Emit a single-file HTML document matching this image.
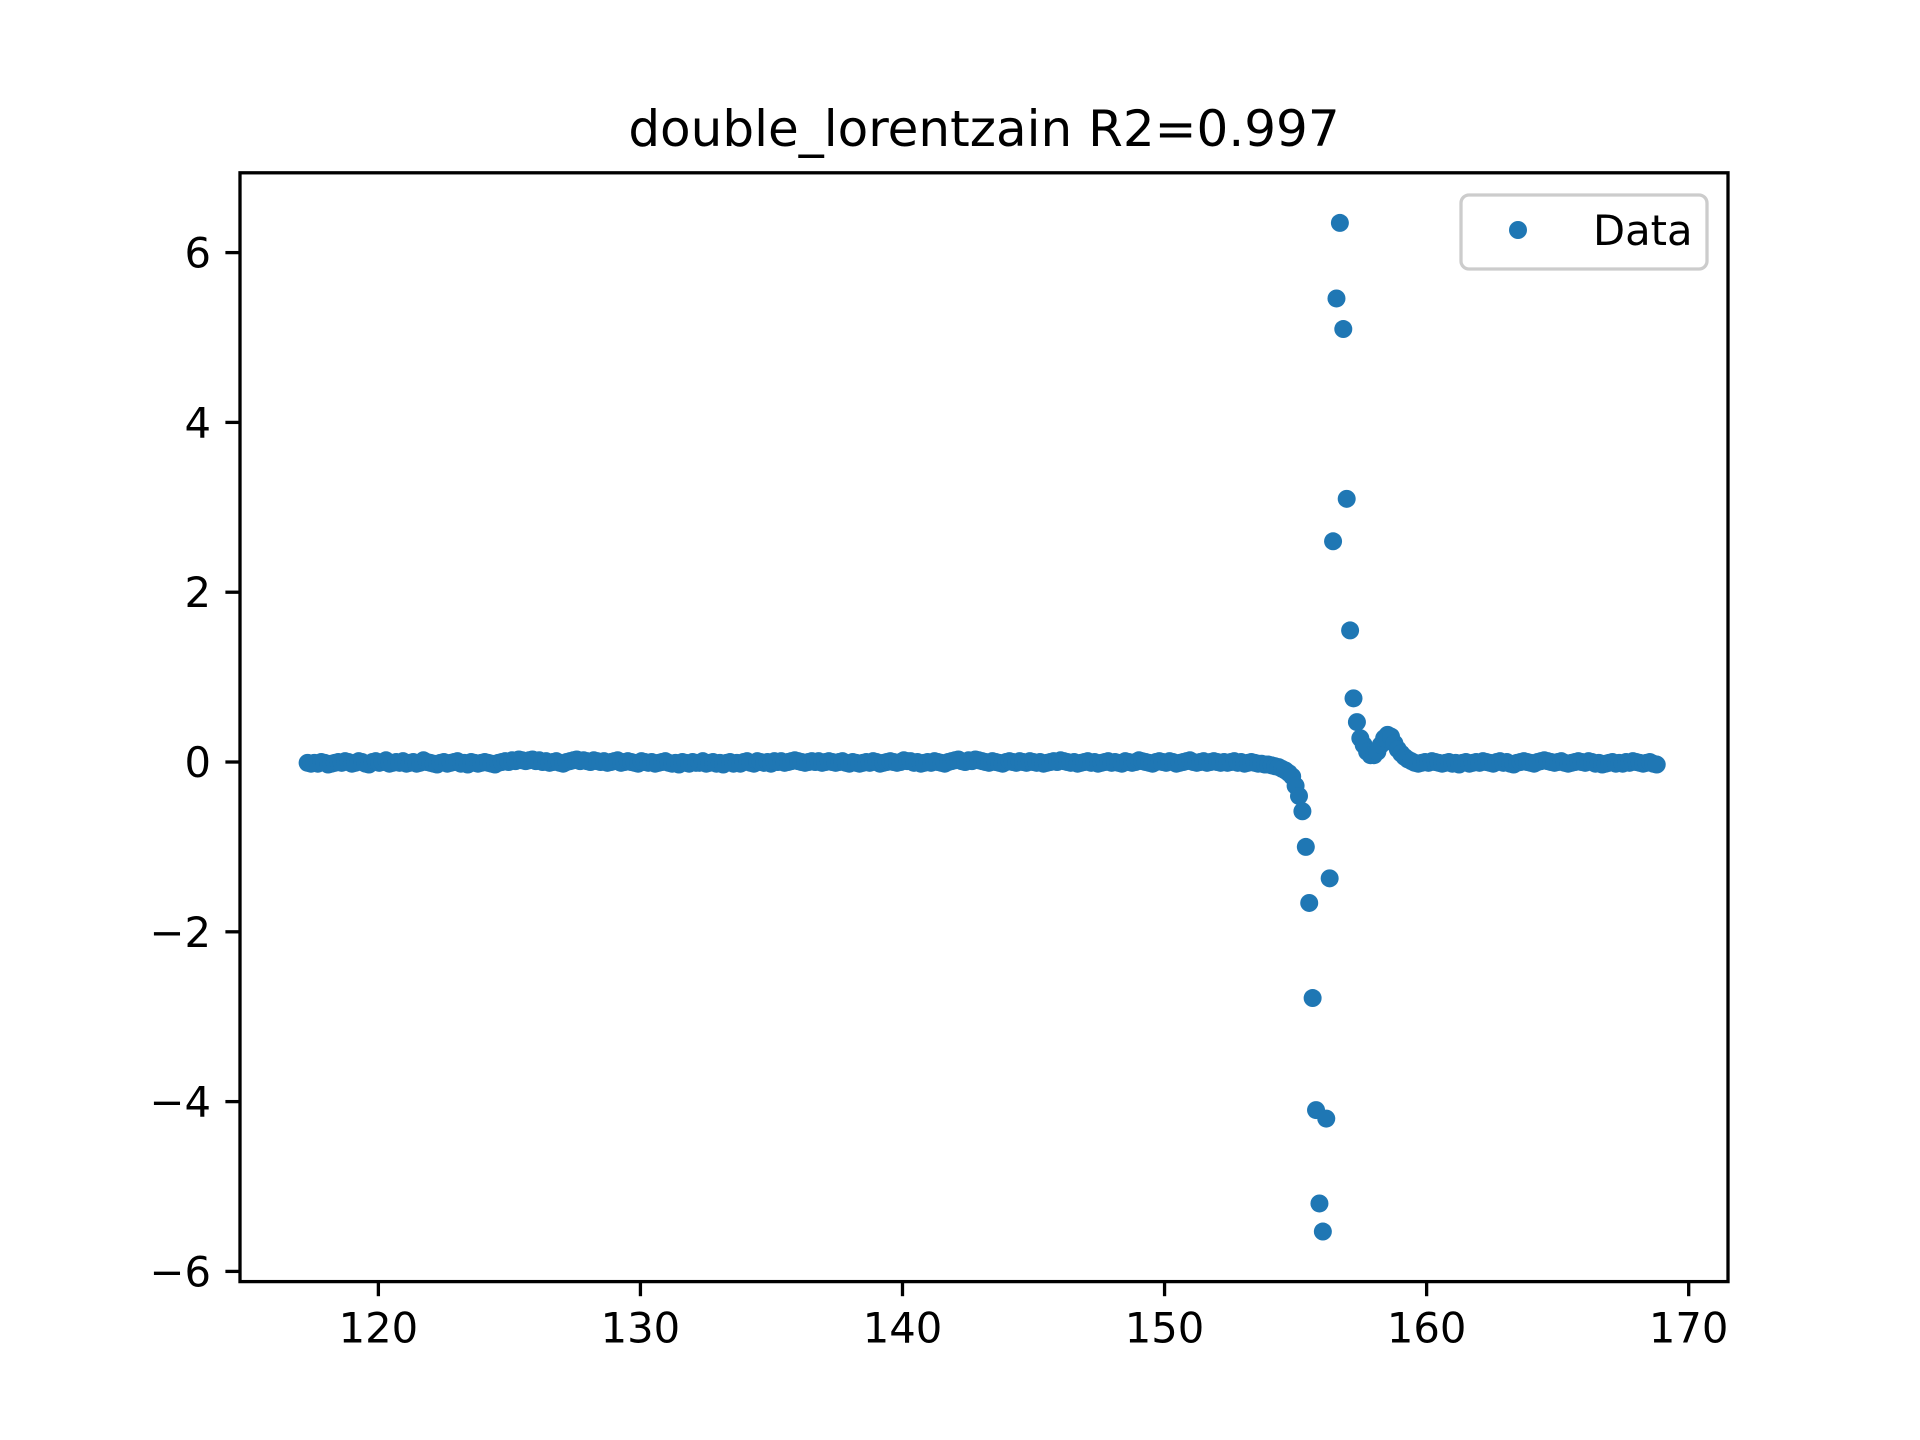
<!DOCTYPE html>
<html><head><meta charset="utf-8"><style>
html,body{margin:0;padding:0;background:#fff;}
svg{display:block;font-family:"DejaVu Sans","Liberation Sans",sans-serif;}
</style></head><body>
<svg id="chart" width="1920" height="1440" viewBox="0 0 1920 1440" xmlns="http://www.w3.org/2000/svg">
<rect x="0" y="0" width="1920" height="1440" fill="#fff"/>
<text x="984" y="146" font-size="50" text-anchor="middle" fill="#000">double_lorentzain R2=0.997</text>
<g id="marks"></g>
<g id="axes"></g>
<g>
<rect x="1461" y="195" width="246" height="74" rx="8" fill="#fff" fill-opacity="0.8" stroke="#cccccc" stroke-width="3.3"/>
<circle cx="1518" cy="230" r="9" fill="#1f77b4"/>
<text x="1593" y="245" font-size="41.7" fill="#000">Data</text>
</g>
</svg>
<script>
const xStart = 117.3;
const xStep = 0.13;
const yValues = [
-.01,-.02,-.01,-.02,0,-.01,-.03,-.02,-.01,0,-.01,.01,0,-.02,-.01,.01,0,-.02,-.03,0,.01,-.01,0,.02,-.02,-.01,0,-.01,.01,-.02,
-.01,0,-.02,-.01,.02,0,-.01,-.02,-.03,-.01,0,-.02,-.01,0,.01,-.02,-.01,-.03,0,-.01,-.02,-.01,0,-.01,-.02,-.03,-.01,0,.01,0,
.02,.01,.03,.02,.01,.02,.03,.01,.02,0,.01,-.01,0,.01,-.01,-.02,0,.01,.02,.03,.01,.02,.01,0,.02,.01,0,.01,-.01,0,
.01,.02,-.01,0,.01,0,-.01,-.02,.01,0,-.01,0,-.02,-.01,0,.01,-.01,-.02,-.01,-.03,0,-.01,-.02,0,-.01,-.01,.01,-.02,-.01,0,
-.02,-.01,-.03,-.01,0,-.02,-.01,-.02,0,.01,-.01,-.02,.01,0,-.01,0,-.02,.01,0,.01,-.01,0,.01,.02,.01,0,-.01,0,.01,0,
.01,-.01,0,.01,0,-.01,0,.01,-.01,-.02,0,-.01,-.02,-.01,0,-.01,.01,0,-.02,-.01,0,.01,0,-.01,0,.02,.01,.01,-.01,0,
-.02,-.01,0,-.01,.01,0,-.01,-.02,0,.01,.02,.03,.01,0,.02,.01,.03,.02,.01,0,-.01,.01,0,-.01,-.02,0,.01,0,-.01,.01,
0,-.01,.01,0,-.01,0,-.02,-.01,0,.01,0,.02,.01,0,-.01,0,-.02,-.01,0,.01,-.01,0,-.02,-.01,0,.01,-.01,0,-.01,-.02,
.01,0,-.01,0,.02,.01,0,-.01,-.02,0,.01,0,-.01,.01,0,-.02,-.01,0,.01,.02,0,-.01,0,.01,-.01,0,.01,0,-.01,0,
-.01,0,.01,-.01,0,-.02,-.01,0,-.01,-.02,
-.02,-.03,-.03,-.04,-.05,-.06,-.08,-.1,-.13,-.17,
-.28,-.4,-.58,-1.0,-1.66,-2.78,-4.1,-5.2,-5.53,-4.2,-1.37,2.6,5.46,6.35,5.1,3.1,1.55,.75,.47,.28,
.2,.12,.08,.08,.12,.2,.28,.32,.3,.22,.15,.1,.06,.03,.01,-.01,
-.02,-.01,0,-.01,.01,0,-.01,-.02,-.01,0,-.02,-.01,-.03,-.01,0,-.02,-.01,0,-.01,.01,0,-.01,-.02,0,.01,-.01,0,-.02,-.03,-.01,
0,.01,0,-.01,-.02,0,.01,.02,.01,0,-.01,0,.01,-.01,-.02,-.01,0,.01,0,-.01,.01,0,-.02,-.01,-.03,-.02,-.01,0,-.02,-.01,
-.02,0,-.01,.01,0,-.01,-.02,-.01,0,-.02,-.03
];
const xDomain = [114.72, 171.5];
const yDomain = [-6.12, 6.94];
const xTicks = [120,130,140,150,160,170];
const yTicks = [-6,-4,-2,0,2,4,6];

const L = 240, R = 1728, T = 172.8, B = 1281.6;
const NS = 'http://www.w3.org/2000/svg';
function sx(v){ return L + (v - xDomain[0]) / (xDomain[1] - xDomain[0]) * (R - L); }
function sy(v){ return B - (v - yDomain[0]) / (yDomain[1] - yDomain[0]) * (B - T); }
function mk(tag, attrs, parent){
  const el = document.createElementNS(NS, tag);
  for (const k in attrs) el.setAttribute(k, attrs[k]);
  parent.appendChild(el);
  return el;
}
const marks = document.getElementById('marks');
yValues.forEach((y, i) => {
  const c = mk('circle', {cx: sx(xStart + i * xStep), cy: sy(y), r: 9, fill: '#1f77b4'}, marks);
  
  
});
const axes = document.getElementById('axes');
const frame = mk('rect', {x: L, y: T, width: R - L, height: B - T, fill: 'none', stroke: '#000', 'stroke-width': 3.3}, axes);


xTicks.forEach(t => {
  const x = sx(t);
  const tk = mk('line', {x1: x, x2: x, y1: B, y2: B + 14.6, stroke: '#000', 'stroke-width': 3.3}, axes);
  
  
  const lb = mk('text', {x: x, y: B + 61, 'font-size': 41.7, 'text-anchor': 'middle', fill: '#000'}, axes);
  lb.textContent = String(t);
  
  
});
yTicks.forEach(t => {
  const y = sy(t);
  const tk = mk('line', {x1: L - 14.6, x2: L, y1: y, y2: y, stroke: '#000', 'stroke-width': 3.3}, axes);
  
  
  const lb = mk('text', {x: L - 29, y: y + 15, 'font-size': 41.7, 'text-anchor': 'end', fill: '#000'}, axes);
  lb.textContent = t < 0 ? '\u2212' + Math.abs(t) : String(t);
  
  
});
</script>
</body></html>
